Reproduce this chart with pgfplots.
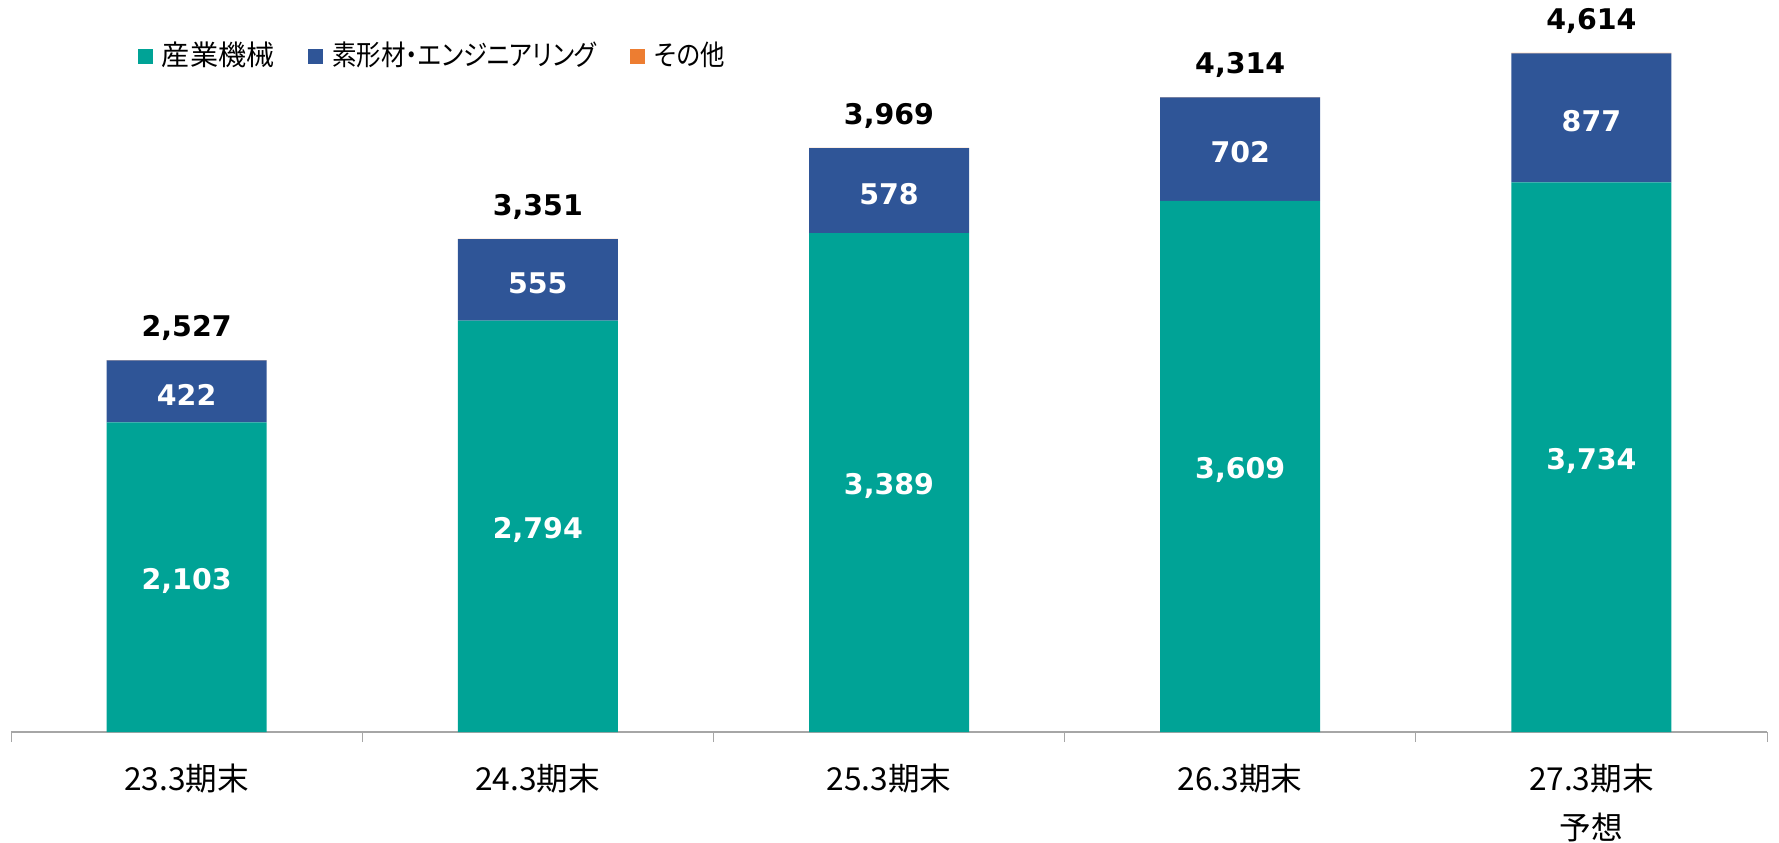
\documentclass[border=0pt]{standalone}
\usepackage{pgfplots}
\pgfplotsset{compat=1.18}
\usepackage{pgfplotstable}
\usepackage{fontspec}
\setmainfont{Noto Sans CJK JP}
\newfontfamily\numfont{DejaVu Sans}
\newfontfamily\legfont{Noto Sans CJK JP}
\newfontfamily\legnarrow[FakeStretch=0.87,CharacterWidth=AlternateProportional]{Noto Sans CJK JP}

\definecolor{machcol}{RGB}{0,163,150}
\definecolor{sozaicol}{RGB}{47,85,151}
\definecolor{othercol}{RGB}{237,125,49}
\definecolor{axisgray}{RGB}{166,166,166}

% x  industrial  materials  other  total
\pgfplotstableread{
x mat ind oth tot
0 2103 422 2 2527
1 2794 555 2 3351
2 3389 578 2 3969
3 3609 702 3 4314
4 3734 877 3 4614
}\data

\begin{document}
\begin{tikzpicture}[x=1mm,y=1mm]
\path[use as bounding box] (0,0) rectangle (177.9,84.2);
\begin{axis}[
    at={(1.1mm,11mm)}, anchor=south west,
    scale only axis, width=175.6mm, height=73.2mm,
    xmin=-0.5, xmax=4.5, ymin=0, ymax=4973,
    ybar stacked, bar width=16mm,
    axis y line=none, axis x line=bottom,
    x axis line style={-, draw=axisgray},
    xtick={-0.5,0.5,1.5,2.5,3.5,4.5}, xticklabels={},
    tick align=outside, major tick length=1mm,
    xtick style={draw=axisgray},
    extra x ticks={0,1,2,3,4},
    extra x tick labels={23.3期末,24.3期末,25.3期末,26.3期末,{27.3期末\\[0.6mm]予想}},
    extra x tick style={major tick length=0pt},
    xticklabel style={font=\fontsize{9}{12.2}\selectfont, align=center,
        anchor=north, inner sep=0pt, yshift=-3.1mm},
    /pgf/number format/.cd, 1000 sep={,}, assume math mode=true,
    /pgfplots/.cd,
    every node near coord/.append style={
        font=\numfont\bfseries\fontsize{8.1}{9}\selectfont},
    legend image code/.code={\fill[#1] (0mm,-0.75mm) rectangle (1.5mm,0.75mm);},
    legend columns=3,
    legend style={at={(0.0723,0.9228)}, anchor=west, draw=none, fill=none,
        inner sep=0pt, outer sep=0pt,
        nodes={inner sep=0pt, anchor=west},
        font=\legfont\fontsize{8}{9}\selectfont,
        /tikz/every odd column/.append style={column sep=0.9mm},
        /tikz/every even column/.append style={column sep=3.4mm}},
]
\addplot[fill=machcol, draw=none, nodes near coords,
    every node near coord/.append style={text=white, yshift=-0.35mm}]
    table[x=x, y=mat] {\data};
\addplot[fill=sozaicol, draw=none, nodes near coords,
    every node near coord/.append style={text=white, yshift=-0.35mm}]
    table[x=x, y=ind] {\data};
\addplot[fill=othercol, draw=none, nodes near coords,
    point meta=explicit,
    every node near coord/.append style={text=black, yshift=3.2mm}]
    table[x=x, y=oth, meta=tot] {\data};
\legend{産業機械,{\legnarrow 素形材・エンジニアリング},{\legnarrow その他}}
\end{axis}
\end{tikzpicture}
\end{document}
